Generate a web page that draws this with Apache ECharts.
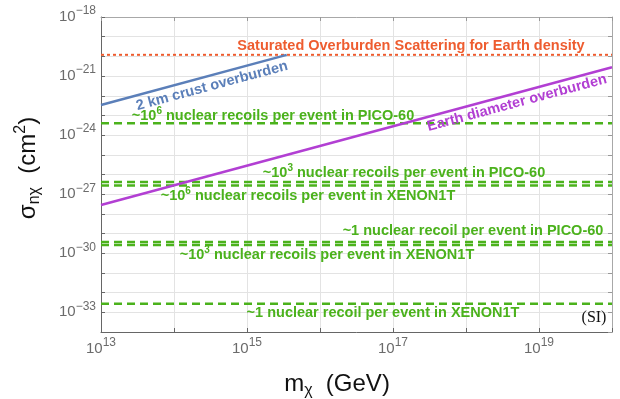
<!DOCTYPE html>
<html><head><meta charset="utf-8">
<script src="https://cdn.jsdelivr.net/npm/echarts@6/dist/echarts.min.js"></script>
<style>html,body{margin:0;padding:0;background:#fff}#c{width:620px;height:399px}</style>
</head><body><div id="c"></div>
<script>
// axis ranges (log10 exponents shown as powers of ten)
const massExpRange = [13, 20];
const sigmaExpRange = [-34, -18];
const xLabelExps = [13, 15, 17, 19];
const yLabelExps = [-33, -30, -27, -24, -21, -18];

// curves: mass (GeV) and cross section (cm^2)
const lineMass = [1e13, 1e20];
const saturatedSigma = [1.2e-20, 1.2e-20];
const crustMass = [1e13, 3.5e15];
const crustSigma = [3.4e-23, 1.19e-20];
const earthMass = [1e13, 1e20];
const earthSigma = [2.8e-28, 2.8e-21];
// horizontal constant lines: ~1e6, ~1e3, ~1 recoils per event
const picoSigma = [4.0e-24, 4.2e-27, 3.7e-30];
const xenonSigma = [2.8e-27, 2.6e-30, 2.75e-33];

const C_RED = '#ee5c2f', C_BLUE = '#5b7fb9', C_PURPLE = '#b23fd3', C_GREEN = '#4bb21c';
const FONT = '"Liberation Sans", Arial, Helvetica, sans-serif';

function pts(ms, ss) { return ms.map((m, i) => [Math.log10(m), Math.log10(ss[i])]); }
function flat(s) { return pts(lineMass, [s, s]); }

const chart = echarts.init(document.getElementById('c'), null, {renderer: 'canvas'});

const series = [];
function addLine(data, color, width, type, z) {
  series.push({type: 'line', data, showSymbol: false, silent: true, animation: false, z: z || 2,
    lineStyle: {color, width, type}, xAxisIndex: 0, yAxisIndex: 0});
}
picoSigma.forEach(s => addLine(flat(s), C_GREEN, 2.5, [8, 5], 2));
xenonSigma.forEach(s => addLine(flat(s), C_GREEN, 2.5, [8, 5], 2));
addLine(flat(saturatedSigma[0]), C_RED, 2, [3, 3], 3);
addLine(pts(crustMass, crustSigma), C_BLUE, 2.5, 'solid', 4);
addLine(pts(earthMass, earthSigma), C_PURPLE, 2.5, 'solid', 4);

const labelRich = {
  b: {fontSize: 15, color: '#6b6b6b', fontFamily: FONT, lineHeight: 24},
  s: {fontSize: 12, color: '#6b6b6b', fontFamily: FONT, verticalAlign: 'top'}
};
const gridLine = {show: true, lineStyle: {color: '#e3e3e3', width: 1}};

const baseX = {type: 'value', min: massExpRange[0], max: massExpRange[1], interval: 1};
const baseY = {type: 'value', min: sigmaExpRange[0], max: sigmaExpRange[1], interval: 1};

function glabel(text, x, y, color, rot, extra) {
  return Object.assign({
    type: 'text', x, y, rotation: rot || 0, silent: true, z: 100,
    style: {
      text, fill: color, font: 'bold 14.5px ' + FONT, align: 'center', verticalAlign: 'middle',
      lineHeight: 20,
      rich: {
        p: {fontSize: 10, fontWeight: 'bold', fontFamily: FONT, fill: color, verticalAlign: 'top'},
        n: {fontSize: 14.5, fontWeight: 'bold', fontFamily: FONT, fill: color, lineHeight: 20}
      }
    }
  }, extra || {});
}
const ROT = Math.atan(19.69 / 73);

chart.setOption({
  animation: false,
  backgroundColor: '#fff',
  grid: {left: 101, right: 8, top: 17, bottom: 67, containLabel: false},
  xAxis: [
    Object.assign({}, baseX, {
      position: 'bottom',
      axisLine: {show: true, onZero: false, lineStyle: {color: '#666', width: 1}},
      axisTick: {show: true, inside: true, length: 4, lineStyle: {color: '#666'}},
      splitLine: gridLine,
      axisLabel: {margin: 5, rich: labelRich,
        formatter: v => xLabelExps.includes(Math.round(v)) ? '{b|10}{s|' + Math.round(v) + '}' : ''}
    }),
    Object.assign({}, baseX, {
      position: 'top',
      axisLine: {show: true, onZero: false, lineStyle: {color: '#a8a8a8', width: 1}},
      axisTick: {show: true, inside: true, length: 4, lineStyle: {color: '#999'}},
      splitLine: {show: false}, axisLabel: {show: false}
    })
  ],
  yAxis: [
    Object.assign({}, baseY, {
      position: 'left',
      axisLine: {show: true, onZero: false, lineStyle: {color: '#666', width: 1}},
      axisTick: {show: true, inside: true, length: 4, lineStyle: {color: '#666'}},
      splitLine: gridLine,
      axisLabel: {margin: 5, rich: labelRich,
        formatter: v => yLabelExps.includes(Math.round(v)) ? '{b|10}{s|\u2212' + (-Math.round(v)) + '}' : ''}
    }),
    Object.assign({}, baseY, {
      position: 'right',
      axisLine: {show: true, onZero: false, lineStyle: {color: '#a8a8a8', width: 1}},
      axisTick: {show: true, inside: true, length: 4, lineStyle: {color: '#999'}},
      splitLine: {show: false}, axisLabel: {show: false}
    })
  ],
  series,
  graphic: [
    glabel('{n|Saturated Overburden Scattering for Earth density}', 411, 46, C_RED),
    glabel('{n|2 km crust overburden}', 212, 86, C_BLUE, ROT),
    glabel('{n|Earth diameter overburden}', 517, 103, C_PURPLE, ROT),
    glabel('{n|~10}{p|6}{n| nuclear recoils per event in PICO-60}', 273, 116, C_GREEN),
    glabel('{n|~10}{p|3}{n| nuclear recoils per event in PICO-60}', 404, 173, C_GREEN),
    glabel('{n|~10}{p|6}{n| nuclear recoils per event in XENON1T}', 308, 196, C_GREEN),
    glabel('{n|~1 nuclear recoil per event in PICO-60}', 473, 231, C_GREEN),
    glabel('{n|~10}{p|3}{n| nuclear recoils per event in XENON1T}', 327, 255, C_GREEN),
    glabel('{n|~1 nuclear recoil per event in XENON1T}', 383, 313, C_GREEN),
    {type: 'text', x: 594, y: 318, silent: true, z: 100,
      style: {text: '(SI)', fill: '#111', font: '16px "Liberation Serif", "Times New Roman", serif',
        align: 'center', verticalAlign: 'middle'}},
    {type: 'text', x: 337, y: 384, silent: true, z: 100,
      style: {text: '{a|m}{b|\u03c7}{a|  (GeV)}', align: 'center', verticalAlign: 'middle',
        rich: {
          a: {fontSize: 24, fontFamily: FONT, fill: '#111', lineHeight: 30},
          b: {fontSize: 16, fontFamily: FONT, fill: '#111', verticalAlign: 'bottom'}
        }}},
    {type: 'text', x: 28, y: 168, rotation: Math.PI / 2, silent: true, z: 100,
      style: {text: '{a|\u03c3}{b|n\u03c7}{a|  (cm}{c|2}{a|)}', align: 'center', verticalAlign: 'middle',
        rich: {
          a: {fontSize: 24, fontFamily: FONT, fill: '#111', lineHeight: 30},
          b: {fontSize: 16, fontFamily: FONT, fill: '#111', verticalAlign: 'bottom'},
          c: {fontSize: 16, fontFamily: FONT, fill: '#111', verticalAlign: 'top'}
        }}}
  ]
});
</script>
</body></html>
